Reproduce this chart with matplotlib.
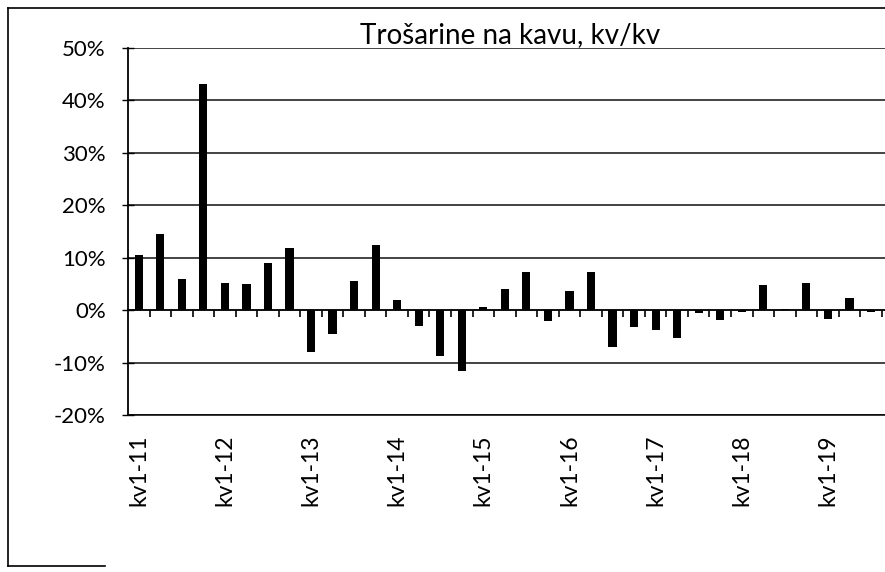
import numpy as np
import matplotlib
matplotlib.use("Agg")
import matplotlib.pyplot as plt
from matplotlib.lines import Line2D
from matplotlib.ticker import FuncFormatter, FixedLocator

plt.rcParams['font.family'] = ['Lato', 'DejaVu Sans']

# quarterly year-on-year change of coffee excise, in %
quarters = [
    "kv1-11", "kv2-11", "kv3-11", "kv4-11",
    "kv1-12", "kv2-12", "kv3-12", "kv4-12",
    "kv1-13", "kv2-13", "kv3-13", "kv4-13",
    "kv1-14", "kv2-14", "kv3-14", "kv4-14",
    "kv1-15", "kv2-15", "kv3-15", "kv4-15",
    "kv1-16", "kv2-16", "kv3-16", "kv4-16",
    "kv1-17", "kv2-17", "kv3-17", "kv4-17",
    "kv1-18", "kv2-18", "kv3-18", "kv4-18",
    "kv1-19", "kv2-19", "kv3-19",
]
change_pct = [
    10.6, 14.6, 6.0, 43.2,
    5.2, 4.9, 8.9, 11.9,
    -8.0, -4.6, 5.5, 12.5,
    1.9, -3.0, -8.8, -11.7,
    0.6, 4.0, 7.2, -2.0,
    3.7, 7.3, -7.0, -3.3,
    -3.8, -5.4, -0.5, -1.8,
    -0.3, 4.8, 0.3, 5.1,
    -1.6, 2.3, -0.4,
]
y_ticks = [-20, -10, 0, 10, 20, 30, 40, 50]
title = "Trošarine na kavu, kv/kv"

x = np.arange(len(quarters))

fig = plt.figure(figsize=(8.85, 5.72), dpi=100)
ax = fig.add_axes([0.1446, 0.2745, 0.8554, 0.6415])

ax.bar(x, change_pct, width=0.38, color="black", zorder=3)

ax.set_ylim(-20, 50)
ax.set_xlim(-0.5, 34.65)
ax.set_yticks(y_ticks)
ax.yaxis.set_major_formatter(FuncFormatter(lambda v, p: f"{v:.0f}%"))
ax.tick_params(axis="y", direction="inout", length=8, width=1, labelsize=16, pad=12)
ax.grid(axis="y", color="#111111", linewidth=1.1, zorder=1)

ax.set_xticks(x[::4])
ax.set_xticklabels(quarters[::4], rotation=90, fontsize=16.5)
ax.tick_params(axis="x", length=0, pad=14)

for side in ["top", "right"]:
    ax.spines[side].set_visible(False)
ax.spines["left"].set_linewidth(1.3)
ax.spines["bottom"].set_linewidth(1.1)

# category axis crossing at zero with ticks between categories
zero_pos = (0 - y_ticks[0]) / (y_ticks[-1] - y_ticks[0])
sec = ax.secondary_xaxis(zero_pos)
sec.xaxis.set_major_locator(FixedLocator(x + 0.5))
sec.tick_params(axis="x", direction="out", length=5, width=1.2, labelbottom=False)
sec.set_xticklabels([])
sec.spines["bottom"].set_linewidth(1.3)

ax.text(0.505, 1.0, title, transform=ax.transAxes, ha="center", va="bottom",
        fontsize=20)

# outer chart frame (partly cropped in the scan)
fig.add_artist(Line2D([8 / 885, 1.0], [1 - 8 / 572, 1 - 8 / 572], color="black", lw=1.2))
fig.add_artist(Line2D([8 / 885, 8 / 885], [1 - 8 / 572, 1 - 566 / 572], color="black", lw=1.2))
fig.add_artist(Line2D([8 / 885, 105 / 885], [1 - 566 / 572, 1 - 566 / 572], color="black", lw=1.2))

fig.savefig("out.png", dpi=100)
